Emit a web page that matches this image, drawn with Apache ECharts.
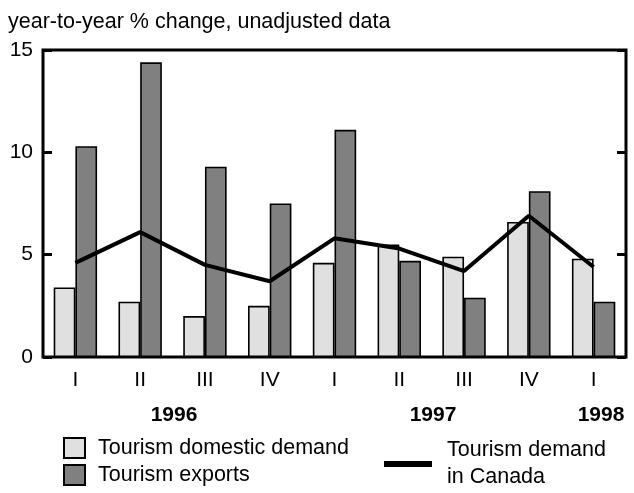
<!DOCTYPE html>
<html><head><meta charset="utf-8">
<script src="https://cdn.jsdelivr.net/npm/echarts@6/dist/echarts.min.js"></script>
<style>html,body{margin:0;padding:0;background:#fff}#c{width:634px;height:493px}</style>
</head><body><div id="c"></div>
<script>
const categories = ['I','II','III','IV','I','II','III','IV','I'];
const domesticDemand = [3.4, 2.7, 2.0, 2.5, 4.6, 5.5, 4.9, 6.6, 4.8];
const exportsData = [10.3, 14.4, 9.3, 7.5, 11.1, 4.7, 2.9, 8.1, 2.7];
const demandCanada = [4.6, 6.1, 4.5, 3.7, 5.8, 5.3, 4.2, 6.9, 4.4];
const yTicks = [0, 5, 10, 15];
const years = [{t:'1996', x:174}, {t:'1997', x:433}, {t:'1998', x:601}];
const titleText = 'year-to-year % change, unadjusted data';

const FONT = '"Liberation Sans", Arial, sans-serif';
const chart = echarts.init(document.getElementById('c'), null, {renderer:'canvas'});
const yAxisCommon = {
  type:'value', min:yTicks[0], max:yTicks[yTicks.length-1], interval:5,
  splitLine:{show:false},
  axisLine:{show:false},
  axisTick:{show:true, inside:true, length:9, lineStyle:{color:'#000', width:3}}
};
const legendText = {color:'#000', fontSize:21.5, fontFamily:FONT, padding:[0,0,0,8]};
chart.setOption({
  animation:false,
  textStyle:{fontFamily:FONT},
  title:{text:titleText, left:8, top:11, padding:0,
    textStyle:{color:'#000', fontSize:21.5, fontWeight:'normal', fontFamily:FONT}},
  grid:{left:43, right:8, top:50, bottom:136, show:true, borderColor:'#000', borderWidth:3, backgroundColor:'transparent'},
  xAxis:{type:'category', data:categories,
    axisLine:{show:false}, axisTick:{show:false},
    axisLabel:{color:'#000', fontSize:21, fontFamily:FONT, margin:13}},
  yAxis:[
    Object.assign({}, yAxisCommon, {position:'left',
      axisLabel:{color:'#000', fontSize:21, fontFamily:FONT, margin:10}}),
    Object.assign({}, yAxisCommon, {position:'right', axisLabel:{show:false}})
  ],
  legend:[
    {left:63, top:437, padding:0, itemWidth:21, itemHeight:20, icon:'rect',
     data:['Tourism domestic demand'], textStyle:legendText},
    {left:63, top:464, padding:0, itemWidth:21, itemHeight:20, icon:'rect',
     data:['Tourism exports'], textStyle:legendText},
    {left:384, top:437, padding:0, itemWidth:48, itemHeight:6, icon:'rect',
     data:['Tourism demand\nin Canada'],
     textStyle:{color:'#000', fontSize:21.5, fontFamily:FONT, lineHeight:27, padding:[0,0,0,10]}}
  ],
  graphic: years.map(y => ({type:'text', x:y.x, y:405,
    style:{text:y.t, fill:'#000', font:'bold 21px '+FONT, textAlign:'center', textVerticalAlign:'top'}})),
  series:[
    {name:'Tourism domestic demand', type:'bar', data:domesticDemand,
     barGap:'0%', barCategoryGap:'33%',
     itemStyle:{color:'#e0e0e0', borderColor:'#000', borderWidth:1.6}},
    {name:'Tourism exports', type:'bar', data:exportsData,
     itemStyle:{color:'#808080', borderColor:'#000', borderWidth:1.6}},
    {name:'Tourism demand\nin Canada', type:'line', data:demandCanada, z:5,
     showSymbol:false, symbol:'none',
     lineStyle:{color:'#000', width:4}, itemStyle:{color:'#000'}}
  ]
});
</script></body></html>
